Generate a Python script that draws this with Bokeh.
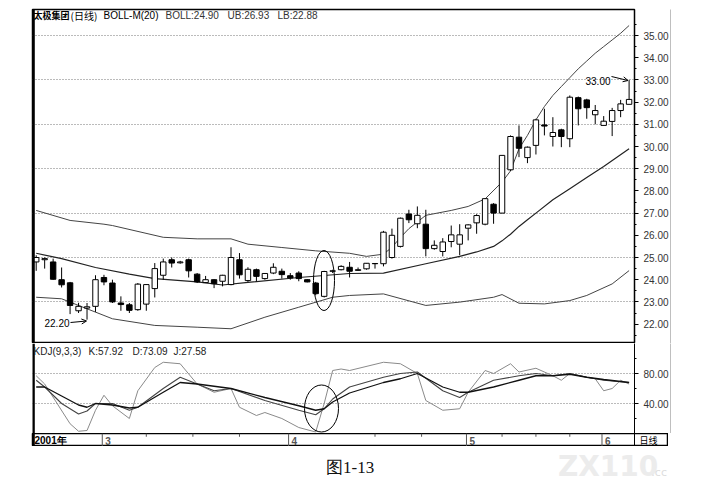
from bokeh.plotting import figure
from bokeh.models import (Range1d, LinearAxis, FixedTicker, NumeralTickFormatter, Grid,
                          Span, Label, Arrow, OpenHead, ColumnDataSource)
from bokeh.layouts import column
from bokeh.embed import file_html
from bokeh.resources import INLINE
from bokeh.core.properties import value

# ---------------- data ----------------
opens = [24.80, 24.90, 24.80, 24.00, 23.86, 22.60, 22.72, 22.80, 24.10, 23.85,
         22.95, 22.87, 22.65, 22.90, 23.60, 24.20, 24.90, 24.76, 24.90, 24.25,
         23.87, 24.00, 23.93, 23.78, 24.90, 23.96, 24.45, 24.05, 24.30, 24.38,
         24.18, 24.30, 24.00, 23.85, 23.25, 24.38, 24.45, 24.56, 24.42, 24.49,
         24.72, 24.72, 25.00, 25.50, 26.96, 26.52, 26.50, 25.40, 25.27, 25.72,
         25.60, 26.32, 26.56, 26.50, 27.40, 27.00, 28.95, 30.42, 29.50, 30.05,
         30.97, 30.45, 30.75, 30.35, 32.20, 32.10, 31.43, 30.95, 31.13, 31.62,
         31.90]
highs = [25.10, 25.00, 24.95, 24.55, 23.90, 22.96, 22.95, 24.20, 24.22, 24.00,
         23.25, 22.95, 23.85, 23.80, 24.75, 24.95, 25.00, 24.85, 24.95, 24.30,
         24.17, 24.02, 24.22, 25.46, 25.20, 24.56, 24.50, 24.30, 24.74, 24.50,
         24.30, 24.38, 24.02, 23.90, 24.40, 24.45, 24.65, 24.80, 24.55, 24.75,
         24.75, 26.20, 26.30, 26.80, 27.15, 27.30, 27.15, 25.77, 25.87, 26.44,
         26.50, 26.50, 26.95, 27.65, 27.45, 29.60, 30.50, 30.95, 30.00, 31.25,
         31.70, 31.32, 30.80, 32.30, 32.25, 32.15, 31.87, 31.37, 31.74, 32.10,
         33.00]
lows = [24.40, 24.50, 24.00, 23.65, 22.45, 22.50, 22.20, 22.55, 23.75, 22.95,
        22.60, 22.50, 22.60, 22.60, 23.20, 24.00, 24.55, 24.72, 24.10, 23.85,
        23.85, 23.62, 23.70, 23.75, 24.05, 23.90, 23.93, 24.00, 24.25, 24.05,
        24.00, 23.93, 23.88, 23.30, 23.20, 24.30, 24.42, 24.10, 24.40, 24.45,
        24.50, 24.60, 24.95, 25.45, 26.55, 26.32, 25.05, 25.35, 25.05, 25.46,
        25.10, 25.77, 26.07, 26.45, 26.52, 27.00, 28.90, 29.52, 29.25, 29.64,
        30.50, 30.00, 29.97, 29.97, 30.95, 31.25, 31.00, 30.95, 30.47, 31.32,
        31.90]
closes = [25.00, 24.95, 24.02, 23.77, 22.84, 22.80, 22.78, 24.00, 23.90, 23.00,
          22.88, 22.62, 23.80, 23.78, 24.50, 24.80, 24.75, 24.80, 24.40, 23.90,
          24.00, 23.82, 24.20, 25.00, 24.22, 24.47, 24.15, 24.28, 24.56, 24.23,
          24.08, 24.05, 23.90, 23.37, 24.37, 24.40, 24.60, 24.38, 24.45, 24.74,
          24.73, 26.14, 26.00, 26.77, 26.70, 26.90, 25.40, 25.55, 25.70, 26.02,
          26.02, 26.47, 26.89, 27.65, 27.00, 29.60, 30.45, 29.92, 29.97, 31.20,
          30.92, 30.63, 30.45, 32.22, 31.70, 31.75, 31.62, 31.14, 31.62, 31.92,
          32.12]

upper_idx = [0, 4, 8, 9, 15, 19, 23, 25, 29, 33, 37, 39, 41, 42, 43, 44, 45, 46, 49, 51,
             53, 55, 56, 57, 58, 59, 60, 61, 62, 63, 64, 65, 66, 67, 68, 69, 70]
upper_val = [27.12, 26.67, 26.50, 26.44, 25.91, 25.84, 25.84, 25.60, 25.45, 25.30, 25.19,
             25.05, 25.15, 25.46, 25.90, 26.30, 26.60, 26.90, 27.12, 27.30, 27.64, 28.40,
             28.90, 29.90, 30.50, 31.20, 31.80, 32.30, 32.70, 33.10, 33.50, 33.85, 34.20,
             34.50, 34.80, 35.10, 35.45]
mid_idx = [0, 3, 7, 11, 14, 19, 22, 25, 31, 37, 41, 46, 50, 52, 54, 55, 56, 57, 58, 59,
           61, 63, 65, 67, 70]
mid_val = [25.19, 24.95, 24.55, 24.25, 24.05, 23.90, 23.76, 23.88, 24.10, 24.28, 24.30,
           24.72, 25.05, 25.25, 25.50, 25.75, 26.05, 26.40, 26.70, 27.00, 27.60, 28.10,
           28.60, 29.10, 29.90]
lower_idx = [0, 3, 5, 8, 9, 14, 19, 23, 27, 31, 35, 37, 41, 46, 50, 54, 55, 57, 60, 63,
             65, 68, 70]
lower_val = [23.21, 23.14, 22.84, 22.39, 22.24, 21.94, 21.86, 21.79, 22.31, 22.76, 23.21,
             23.29, 23.36, 22.84, 22.99, 23.21, 23.33, 22.94, 22.91, 23.06, 23.29, 23.81,
             24.41]

k_idx = [0, 1, 3, 5, 6, 7, 9, 11, 12, 15, 17, 19, 21, 23, 27, 31, 33, 34, 35, 37, 41, 43,
         45, 48, 50, 51, 54, 57, 59, 61, 63, 65, 67, 70]
k_val = [71, 62, 40, 26, 30, 40, 40, 31, 35, 60, 75, 66, 57, 60, 44, 31, 25, 33, 46, 62,
         75, 80, 82, 57, 48, 55, 71, 77, 80, 77, 80, 75, 71, 68]
d_idx = [0, 1, 3, 5, 6, 7, 9, 11, 12, 15, 17, 19, 21, 23, 27, 31, 33, 34, 35, 37, 41, 43,
         45, 48, 50, 51, 54, 57, 59, 61, 63, 65, 67, 70]
d_val = [62, 62, 50, 38, 35, 40, 38, 34, 35, 55, 68, 66, 63, 60, 48, 37, 31, 33, 42, 54,
         68, 73, 80, 62, 55, 55, 62, 71, 77, 77, 79, 75, 72, 68]
j_idx = [0, 1, 4, 5, 6, 7, 8, 9, 11, 12, 14, 15, 17, 19, 21, 23, 24, 26, 27, 29, 31, 33,
         34, 35, 36, 37, 41, 43, 45, 46, 48, 50, 51, 53, 54, 56, 57, 59, 61, 62, 63, 65,
         66, 67, 68, 69, 70]
j_val = [77, 66, 13, 3, 4, 31, 51, 37, 20, 57, 88, 95, 93, 66, 55, 60, 35, 24, 28, 20, 8, 2,
         40, 84, 86, 84, 95, 93, 80, 44, 31, 33, 55, 84, 80, 93, 82, 87, 77, 71, 80, 75,
         73, 57, 60, 71, 66]

price_ticks = list(range(22, 36))
price_grid = [23, 25, 27, 29, 31, 33, 35]
kdj_ticks = [40, 80]
month_labels = ["2001年", "3", "4", "5", "6"]
month_start = [0, 8, 30, 51, 67]
week_ticks = [13, 18.5, 24, 40, 45.5, 55, 59, 63]

main_header = ["太极集团", "(日线)", "BOLL-M(20)", "BOLL:24.90", "UB:26.93", "LB:22.88"]
kdj_header = ["KDJ(9,3,3)", "K:57.92", "D:73.09", "J:27.58"]
low_note = "22.20"
high_note = "33.00"
caption = "图1-13"

# ---------------- helpers for annotation placement ----------------
def X(px):
    return (px - 35.7) / 8.47

def P(py):
    return 25 - (py - 257) / 22.2

def KV(py):
    return (433 - py) / 0.75

FONT = "Liberation Sans"
XR = Range1d(X(32), X(634))

# ---------------- main panel ----------------
p = figure(frame_width=602, frame_height=334, x_range=XR, y_range=Range1d(P(343), P(9)),
           output_backend="svg", toolbar_location=None, x_axis_location=None,
           y_axis_location=None, min_border_left=32, min_border_right=0,
           min_border_top=9, min_border_bottom=0, background_fill_color="white",
           outline_line_color="black", outline_line_width=1.5)
p.grid.visible = False
p.add_layout(Grid(dimension=1, ticker=FixedTicker(ticks=price_grid),
                  grid_line_color="#777777", grid_line_dash="1 2"))

ax = LinearAxis(ticker=FixedTicker(ticks=price_ticks,
                                   minor_ticks=[t + 0.5 for t in range(21, 36)]),
                formatter=NumeralTickFormatter(format="0.00"),
                major_label_text_font=FONT, major_label_text_font_size="10px",
                major_label_text_color="#333333", major_tick_out=4, major_tick_in=0,
                minor_tick_out=2, minor_tick_in=0, major_label_standoff=5,
                axis_line_color="black")
p.add_layout(ax, "right")
edge = LinearAxis(ticker=FixedTicker(ticks=[]), major_label_text_font_size="0px",
                  major_tick_line_color=None, minor_tick_line_color=None,
                  axis_line_color="black", axis_line_width=1.5)
p.add_layout(edge, "right")
p.add_layout(Span(location=X(32.8), dimension="height", line_color="black", line_width=3))

idx = list(range(len(opens)))
src = ColumnDataSource(dict(
    i=idx, h=highs, l=lows,
    top=[max(o, c) for o, c in zip(opens, closes)],
    bot=[min(o, c) for o, c in zip(opens, closes)],
    fill=["white" if c >= o else "black" for o, c in zip(opens, closes)]))

p.line(upper_idx, upper_val, line_color="#444444", line_width=1)
p.line(mid_idx, mid_val, line_color="#222222", line_width=1.2)
p.line(lower_idx, lower_val, line_color="#444444", line_width=1)
p.segment(x0="i", y0="h", x1="i", y1="l", source=src, line_color="black", line_width=1)
p.vbar(x="i", width=0.64, top="top", bottom="bot", fill_color="fill",
       line_color="black", line_width=1, source=src)

p.ellipse(x=[X(323.5)], y=[P(280)], width=[21 / 8.47], height=[60 / 22.2],
          fill_color=None, line_color="black", line_width=1)

hx = [33, 70, 103, 165, 227, 277]
hsize = ["9px", "10px", "10px", "10px", "10px", "10px"]
hcol = ["black", "black", "black", "#333333", "#333333", "#333333"]
for n, (t, x, fs, col) in enumerate(zip(main_header, hx, hsize, hcol)):
    p.add_layout(Label(x=X(x), y=P(15), text=t,
                       text_font="Noto Sans CJK SC" if n < 2 else FONT,
                       text_font_size=fs, text_baseline="middle", text_color=col,
                       text_font_style="bold" if n == 0 else "normal"))

p.add_layout(Label(x=X(44), y=P(322), text=low_note, text_font=FONT, text_font_size="10px",
                   text_baseline="middle", text_color="black"))
p.add_layout(Arrow(end=OpenHead(size=5, line_width=1), x_start=X(70), y_start=P(322),
                   x_end=X(86), y_end=P(320.5), line_width=1, line_color="black"))
p.add_layout(Label(x=X(585), y=P(80), text=high_note, text_font=FONT, text_font_size="10px",
                   text_baseline="middle", text_color="black"))
p.add_layout(Arrow(end=OpenHead(size=5, line_width=1), x_start=X(611), y_start=P(76),
                   x_end=X(627.5), y_end=P(80), line_width=1, line_color="black"))

# ---------------- KDJ panel ----------------
k = figure(frame_width=602, frame_height=90, x_range=XR, y_range=Range1d(0, 120),
           output_backend="svg", toolbar_location=None, x_axis_location=None,
           y_axis_location=None, min_border_left=32, min_border_right=0,
           min_border_top=0, min_border_bottom=0, outline_line_color=None)
k.grid.visible = False
k.add_layout(Grid(dimension=1, ticker=FixedTicker(ticks=kdj_ticks),
                  grid_line_color="#777777", grid_line_dash="1 2"))
kax = LinearAxis(ticker=FixedTicker(ticks=kdj_ticks, minor_ticks=[20, 60, 100]),
                 formatter=NumeralTickFormatter(format="0.00"),
                 major_label_text_font=FONT, major_label_text_font_size="10px",
                 major_label_text_color="#333333", major_tick_out=4, major_tick_in=0,
                 minor_tick_out=2, minor_tick_in=0, major_label_standoff=5,
                 axis_line_color="black")
k.add_layout(kax, "right")
kedge = LinearAxis(ticker=FixedTicker(ticks=[]), major_label_text_font_size="0px",
                   major_tick_line_color=None, minor_tick_line_color=None,
                   axis_line_color="black", axis_line_width=1.5)
k.add_layout(kedge, "right")
k.add_layout(Span(location=X(32.8), dimension="height", line_color="black", line_width=3))

k.line(j_idx, j_val, line_color="#8a8a8a", line_width=1)
k.line(k_idx, k_val, line_color="#444444", line_width=1.1)
k.line(d_idx, d_val, line_color="#111111", line_width=1.3)
k.ellipse(x=[X(321)], y=[KV(408)], width=[34 / 8.47], height=[47 / 0.75],
          fill_color=None, line_color="black", line_width=1)

kx = [33, 88, 132, 173]
for t, x in zip(kdj_header, kx):
    k.add_layout(Label(x=X(x), y=KV(351), text=t, text_font=FONT, text_font_size="10px",
                       text_baseline="middle", text_color="#222222"))

# ---------------- date strip ----------------
d = figure(frame_width=636, frame_height=13, x_range=Range1d(X(32), X(668)),
           y_range=Range1d(0, 1), output_backend="svg", toolbar_location=None,
           x_axis_location=None, y_axis_location=None, min_border_left=32,
           min_border_right=0, min_border_top=0, min_border_bottom=0,
           outline_line_color="black", outline_line_width=1.5)
d.grid.visible = False
d.add_layout(Span(location=X(32.8), dimension="height", line_color="black", line_width=3))
d.add_layout(Span(location=X(634), dimension="height", line_color="black", line_width=1))
d.segment(x0=[m - 0.2 for m in month_start[1:]], y0=[0] * 4,
          x1=[m - 0.2 for m in month_start[1:]], y1=[1] * 4, line_color="#555555")
d.segment(x0=week_ticks, y0=[1] * len(week_ticks), x1=week_ticks,
          y1=[0.75] * len(week_ticks), line_color="#555555")
d.text(x=[m + 0.15 if m else X(34) for m in month_start], y=[0.45] * 5, text=month_labels,
       text_font=value(FONT), text_font_size=value("10px"), text_baseline="middle",
       text_color=["black", "#555555", "#555555", "#555555", "#555555"],
       text_font_style=value("bold"))
d.text(x=[X(639)], y=[0.5], text=["日线"], text_font=value("Noto Sans CJK SC"),
       text_font_size=value("9px"), text_baseline="middle", text_color="black")

# ---------------- caption ----------------
c = figure(width=705, height=40, x_range=Range1d(0, 705), y_range=Range1d(486, 446),
           output_backend="svg", toolbar_location=None, x_axis_location=None,
           y_axis_location=None, min_border=0, outline_line_color=None)
c.grid.visible = False
c.text(x=[638], y=[466], text=["ZX110"], text_font=value("DejaVu Sans"),
       text_font_size=value("28px"), text_align="center", text_baseline="middle",
       text_color="#ececec", text_font_style=value("bold"))
c.text(x=[686], y=[472], text=[".cc"], text_font=value("DejaVu Sans"),
       text_font_size=value("11px"), text_align="left", text_baseline="middle",
       text_color="#dddddd")
c.text(x=[352], y=[467], text=[caption], text_font=value("Liberation Serif"),
       text_font_size=value("17px"), text_align="center", text_baseline="middle",
       text_color="#111111")

layout = column(p, k, d, c)
open("out.html", "w").write(file_html(layout, INLINE))
